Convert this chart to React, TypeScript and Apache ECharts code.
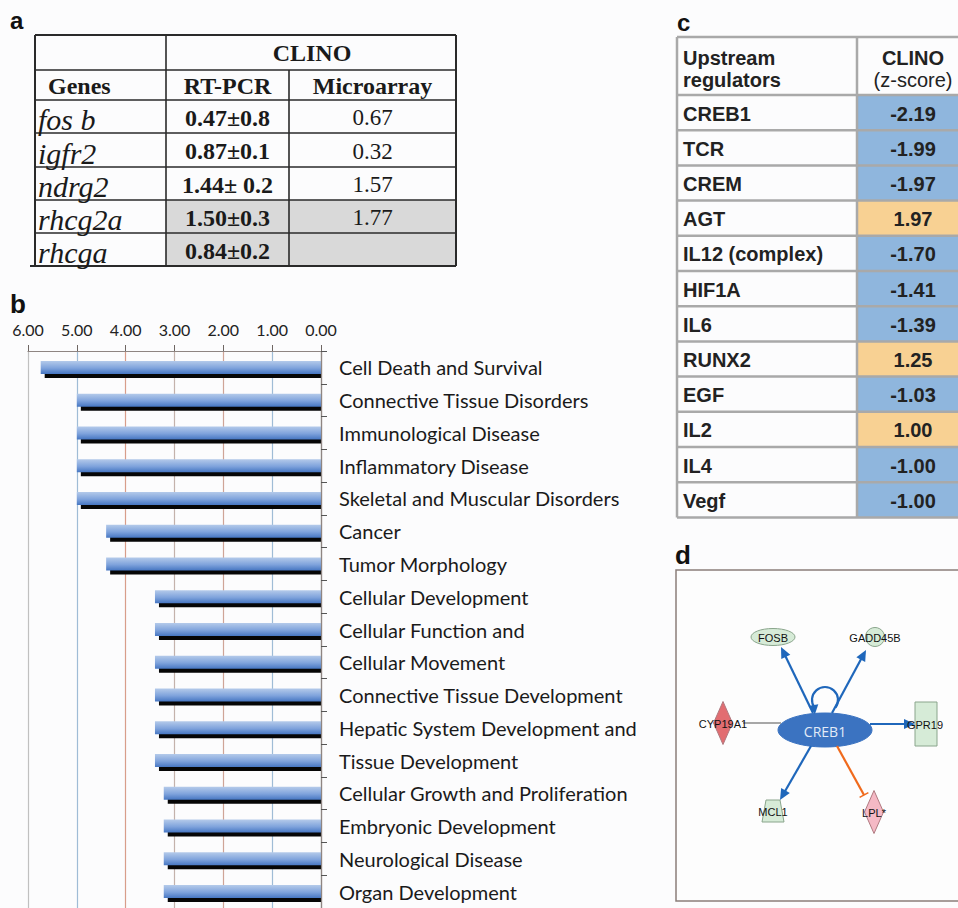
import React, { useEffect, useRef } from "react";
import * as echarts from "echarts";

// ---------- Panel b data ----------
const categories = [
  "Cell Death and Survival",
  "Connective Tissue Disorders",
  "Immunological Disease",
  "Inflammatory Disease",
  "Skeletal and Muscular Disorders",
  "Cancer",
  "Tumor Morphology",
  "Cellular Development",
  "Cellular Function and",
  "Cellular Movement",
  "Connective Tissue Development",
  "Hepatic System Development and",
  "Tissue Development",
  "Cellular Growth and Proliferation",
  "Embryonic Development",
  "Neurological Disease",
  "Organ Development",
];
const scores = [5.74, 5.0, 5.0, 5.0, 5.0, 4.4, 4.4, 3.4, 3.4, 3.4, 3.4, 3.4, 3.4, 3.22, 3.22, 3.22, 3.22];

// ---------- Panel a data ----------
const genes = ["fos b", "igfr2", "ndrg2", "rhcg2a", "rhcga"];
const rtPcr = ["0.47±0.8", "0.87±0.1", "1.44± 0.2", "1.50±0.3", "0.84±0.2"];
const microarray = ["0.67", "0.32", "1.57", "1.77", ""];
const shadedRows = [false, false, false, true, true];

// ---------- Panel c data ----------
const regulators = ["CREB1", "TCR", "CREM", "AGT", "IL12 (complex)", "HIF1A", "IL6", "RUNX2", "EGF", "IL2", "IL4", "Vegf"];
const zScores = [-2.19, -1.99, -1.97, 1.97, -1.7, -1.41, -1.39, 1.25, -1.03, 1.0, -1.0, -1.0];

// ---------- Panel d data ----------
const netNodes = [
  { name: "CREB1", shape: "ellipse", fill: "#3b73c1", text: "#e3ebf7" },
  { name: "FOSB", shape: "ellipse", fill: "#d6ebd7", text: "#111" },
  { name: "GADD45B", shape: "circle", fill: "#d6ebd7", text: "#111" },
  { name: "CYP19A1", shape: "diamond", fill: "#e26d71", text: "#111" },
  { name: "GPR19", shape: "rect", fill: "#d6ebd7", text: "#111" },
  { name: "MCL1", shape: "trapezoid", fill: "#d6ebd7", text: "#111" },
  { name: "LPL*", shape: "diamond", fill: "#f5b9c5", text: "#111" },
];
const netEdges = [
  { from: "CREB1", to: "FOSB", kind: "activate" },
  { from: "CREB1", to: "GADD45B", kind: "activate" },
  { from: "CREB1", to: "GPR19", kind: "activate" },
  { from: "CREB1", to: "MCL1", kind: "activate" },
  { from: "CREB1", to: "LPL*", kind: "inhibit" },
  { from: "CYP19A1", to: "CREB1", kind: "plain" },
];

// layout of the diagram (geometry only)
const nodeLayout: Record<string, { x: number; y: number; w: number; h: number }> = {
  CREB1: { x: 825, y: 730, w: 94, h: 34 },
  FOSB: { x: 773, y: 637, w: 44, h: 17 },
  GADD45B: { x: 875, y: 637, w: 19, h: 19 },
  CYP19A1: { x: 723, y: 723, w: 19, h: 43 },
  GPR19: { x: 926, y: 724, w: 22, h: 44 },
  MCL1: { x: 773, y: 811, w: 22, h: 22 },
  "LPL*": { x: 874, y: 812, w: 19, h: 43 },
};
const edgeLayout: Record<string, number[]> = {
  FOSB: [813, 713, 781, 647],
  GADD45B: [832, 713, 866, 650],
  GPR19: [870, 724, 915, 724],
  MCL1: [811, 746, 780, 800],
  "LPL*": [837, 746, 864, 795],
  CREB1: [743, 723, 781, 723],
};

const SERIF = "'Liberation Serif', 'Times New Roman', serif";
const SANS = "'Liberation Sans', Arial, sans-serif";

function txt(text: string, x: number, y: number, opts: any = {}) {
  const align = opts.align || "center";
  return {
    type: "text",
    x,
    y,
    z: opts.z ?? 20,
    style: {
      text,
      fill: opts.fill || "#1a1a1a",
      fontFamily: opts.family || SANS,
      fontSize: opts.size || 14,
      fontWeight: opts.weight || "normal",
      fontStyle: opts.italic ? "italic" : "normal",
      align,
      textAlign: align,
      verticalAlign: "middle",
      textVerticalAlign: "middle",
    },
  };
}
function ln(x1: number, y1: number, x2: number, y2: number, stroke: string, lineWidth: number, z = 10) {
  return { type: "line", z, shape: { x1, y1, x2, y2 }, style: { stroke, lineWidth } };
}
function rc(x: number, y: number, w: number, h: number, fill: string, z = 5) {
  return { type: "rect", z, shape: { x, y, width: w, height: h }, style: { fill } };
}

function buildTableA() {
  const els: any[] = [];
  const cols = [35, 166, 289, 456];
  const rows = [35, 70, 100, 133, 167, 200, 233, 266];
  const c = "#2a2a2a";
  genes.forEach((g, i) => {
    if (shadedRows[i]) els.push(rc(cols[1], rows[i + 2], cols[3] - cols[1], rows[i + 3] - rows[i + 2], "#d9d9d9"));
  });
  rows.forEach((y, i) => {
    const outer = i === 0 || i === rows.length - 1;
    els.push(ln(i === rows.length - 1 ? 30 : cols[0], y, cols[3], y, c, outer ? 2 : 1.6));
  });
  els.push(ln(cols[0], rows[0], cols[0], rows[7], c, 2));
  els.push(ln(cols[1], rows[0], cols[1], rows[7], c, 1.6));
  els.push(ln(cols[2], rows[1], cols[2], rows[7], c, 1.6));
  els.push(ln(cols[3], rows[0], cols[3], rows[7], c, 2));
  els.push(txt("CLINO", (cols[1] + cols[3]) / 2 + 1, 53, { family: SERIF, size: 24, weight: "bold" }));
  els.push(txt("Genes", 48, 86, { family: SERIF, size: 24, weight: "bold", align: "left" }));
  els.push(txt("RT-PCR", (cols[1] + cols[2]) / 2, 86, { family: SERIF, size: 24, weight: "bold" }));
  els.push(txt("Microarray", (cols[2] + cols[3]) / 2, 86, { family: SERIF, size: 24, weight: "bold" }));
  genes.forEach((g, i) => {
    const cy = (rows[i + 2] + rows[i + 3]) / 2 + 1;
    els.push(txt(g, 38, cy + 2, { family: SERIF, size: 30, italic: true, align: "left" }));
    els.push(txt(rtPcr[i], (cols[1] + cols[2]) / 2, cy, { family: SERIF, size: 24, weight: "bold" }));
    if (microarray[i]) els.push(txt(microarray[i], (cols[2] + cols[3]) / 2, cy, { family: SERIF, size: 23 }));
  });
  return els;
}

function buildTableC() {
  const els: any[] = [];
  const left = 677, mid = 857, right = 962, top = 37, headB = 95, rowH = 35.2;
  const c = "#a9a9a9";
  regulators.forEach((r, i) => {
    const y0 = headB + i * rowH;
    els.push(rc(mid, y0, right - mid, rowH, zScores[i] < 0 ? "#8fb6dd" : "#f8d193"));
    els.push(txt(r, 683, y0 + rowH / 2 + 1, { size: 20, weight: "bold", align: "left", fill: "#222" }));
    els.push(txt(zScores[i].toFixed(2), 913, y0 + rowH / 2 + 1, { size: 20, weight: "bold", fill: "#222" }));
  });
  const bottom = headB + regulators.length * rowH;
  els.push(ln(left, top, right, top, c, 2.5));
  els.push(ln(left, headB, right, headB, c, 2.5));
  regulators.forEach((r, i) => els.push(ln(left, headB + (i + 1) * rowH, right, headB + (i + 1) * rowH, c, 2.5)));
  els.push(ln(left, top, left, bottom, c, 2.5));
  els.push(ln(mid, top, mid, bottom, c, 2.5));
  els.push(txt("Upstream", 683, 58, { size: 20, weight: "bold", align: "left", fill: "#222" }));
  els.push(txt("regulators", 683, 80, { size: 20, weight: "bold", align: "left", fill: "#222" }));
  els.push(txt("CLINO", 913, 58, { size: 20, weight: "bold", fill: "#222" }));
  els.push(txt("(z-score)", 913, 80, { size: 20, fill: "#222" }));
  return els;
}

function arrowHead(x1: number, y1: number, x2: number, y2: number, color: string, len = 11, half = 5) {
  const d = Math.hypot(x2 - x1, y2 - y1);
  const ux = (x2 - x1) / d, uy = (y2 - y1) / d;
  const bx = x2 - ux * len, by = y2 - uy * len;
  return {
    type: "polygon",
    z: 16,
    shape: { points: [[x2, y2], [bx - uy * half, by + ux * half], [bx + uy * half, by - ux * half]] },
    style: { fill: color },
  };
}

function buildNetwork() {
  const els: any[] = [];
  els.push({ type: "rect", z: 2, shape: { x: 676, y: 570, width: 300, height: 331 }, style: { fill: "#fdfdfd", stroke: "#8a7e79", lineWidth: 1.5 } });
  const blue = "#1f67bb";
  netNodes.forEach((n) => {
    const p = nodeLayout[n.name];
    const st = { fill: n.fill, stroke: n.name === "CREB1" ? "#3b73c1" : "#8aa58c", lineWidth: 1 };
    if (n.shape === "ellipse") els.push({ type: "ellipse", z: 12, shape: { cx: p.x, cy: p.y, rx: p.w / 2, ry: p.h / 2 }, style: st });
    if (n.shape === "circle") els.push({ type: "circle", z: 12, shape: { cx: p.x, cy: p.y, r: p.w / 2 }, style: st });
    if (n.shape === "rect") els.push({ type: "rect", z: 12, shape: { x: p.x - p.w / 2, y: p.y - p.h / 2, width: p.w, height: p.h }, style: st });
    if (n.shape === "diamond")
      els.push({
        type: "polygon", z: 12,
        shape: { points: [[p.x, p.y - p.h / 2], [p.x + p.w / 2, p.y], [p.x, p.y + p.h / 2], [p.x - p.w / 2, p.y]] },
        style: { ...st, stroke: "#b07a80" },
      });
    if (n.shape === "trapezoid")
      els.push({
        type: "polygon", z: 12,
        shape: { points: [[p.x - 7, p.y - p.h / 2], [p.x + 7, p.y - p.h / 2], [p.x + p.w / 2, p.y + p.h / 2], [p.x - p.w / 2, p.y + p.h / 2]] },
        style: st,
      });
    els.push(txt(n.name, p.x - (n.name === "GPR19" ? 1 : 0), p.y + 1, { size: n.name === "CREB1" ? 14 : 11, fill: n.text, z: 22, family: n.name === "CREB1" ? "'Open Sans', sans-serif" : SANS }));
  });
  netEdges.forEach((e) => {
    const [x1, y1, x2, y2] = edgeLayout[e.to];
    if (e.kind === "activate") {
      const d = Math.hypot(x2 - x1, y2 - y1);
      const ux = (x2 - x1) / d, uy = (y2 - y1) / d;
      els.push(ln(x1, y1, x2 - ux * 8, y2 - uy * 8, blue, 2.2, 15));
      els.push(arrowHead(x1, y1, x2, y2, blue));
    } else if (e.kind === "inhibit") {
      const orange = "#f06a1c";
      els.push(ln(x1, y1, x2, y2, orange, 2.2, 15));
      const d = Math.hypot(x2 - x1, y2 - y1);
      const ux = (x2 - x1) / d, uy = (y2 - y1) / d;
      els.push(ln(x2 - uy * 5, y2 + ux * 5, x2 + uy * 5, y2 - ux * 5, orange, 1.5, 15));
    } else {
      els.push(ln(x1, y1, x2, y2, "#8a8a8a", 1.5, 11));
    }
  });
  // self-loop on CREB1
  els.push({
    type: "arc", z: 15,
    shape: { cx: 825, cy: 700, r: 13, startAngle: (3 * Math.PI) / 4 + 0.15, endAngle: (9 * Math.PI) / 4 - 0.15, clockwise: true },
    style: { stroke: blue, lineWidth: 2.2, fill: "none" },
  });
  els.push(arrowHead(813, 703, 815, 714, blue, 9, 5));
  return els;
}

export default function App() {
  const ref = useRef<HTMLDivElement>(null);
  useEffect(() => {
    document.body.style.margin = "0";
    const chart = echarts.init(ref.current!, null, { renderer: "svg" });
    const gridTop = 351;
    const band = 33;
    const barH = 13;
    const option: any = {
      animation: false,
      backgroundColor: "#fcfcfd",
      grid: { left: 28, top: gridTop, width: 293, height: band * categories.length, containLabel: false },
      xAxis: {
        type: "value",
        position: "top",
        inverse: true,
        min: 0,
        max: 6,
        interval: 1,
        axisLine: { show: true, lineStyle: { color: "#8e8582", width: 1.2 } },
        axisTick: { show: true, length: 6, lineStyle: { color: "#6e6662" } },
        axisLabel: { margin: 14, fontFamily: "Lato, sans-serif", fontSize: 16, color: "#222", formatter: (v: number) => v.toFixed(2) },
        splitLine: { show: true, lineStyle: { color: ["#8e8582", "#9fbcd6", "#cfa497", "#c4b2ab", "#d89d8a", "#9fbcd6", "#c0c0c0"], width: 1.2 } },
      },
      yAxis: {
        type: "category",
        position: "right",
        inverse: true,
        data: categories,
        z: 5,
        axisLine: { show: true, lineStyle: { color: "#8e8582", width: 1.2 } },
        axisTick: { show: true, length: 6, lineStyle: { color: "#555" } },
        axisLabel: { margin: 18, fontFamily: "Lato, sans-serif", fontSize: 20, color: "#1a1a1a" },
        splitLine: { show: false },
      },
      series: [
        {
          type: "custom",
          z: 2,
          data: scores.map((v, i) => [v, i]),
          encode: { x: 0, y: 1 },
          renderItem: (params: any, api: any) => {
            const v = api.value(0);
            const ci = api.value(1);
            const p = api.coord([v, ci]);
            const p0 = api.coord([0, ci]);
            const xl = Math.min(p[0], p0[0]) + 4;
            return {
              type: "rect",
              shape: { x: xl, y: p[1] - barH / 2 + 4, width: Math.max(p[0], p0[0]) - xl, height: barH },
              style: { fill: "#060606" },
            };
          },
        },
        {
          type: "bar",
          z: 3,
          data: scores,
          barWidth: barH,
          itemStyle: {
            color: new echarts.graphic.LinearGradient(0, 0, 0, 1, [
              { offset: 0, color: "#b4caea" },
              { offset: 0.55, color: "#7fa3dc" },
              { offset: 1, color: "#4676c2" },
            ]),
          },
        },
      ],
      graphic: {
        elements: [
          txt("a", 10, 20, { size: 24, weight: "bold", align: "left", fill: "#111" }),
          txt("b", 10, 304, { size: 26, weight: "bold", align: "left", fill: "#111" }),
          txt("c", 677, 22, { size: 24, weight: "bold", align: "left", fill: "#111" }),
          txt("d", 675, 555, { size: 26, weight: "bold", align: "left", fill: "#111" }),
          ...buildTableA(),
          ...buildTableC(),
          ...buildNetwork(),
        ],
      },
    };
    chart.setOption(option);
    return () => chart.dispose();
  }, []);
  return <div ref={ref} style={{ position: "absolute", left: 0, top: 0, width: 958, height: 908 }} />;
}
